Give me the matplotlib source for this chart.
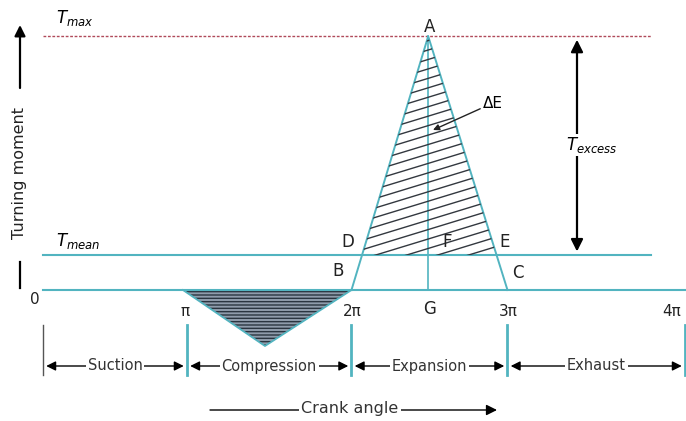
import numpy as np
import matplotlib
matplotlib.use("Agg")
import matplotlib.pyplot as plt
from matplotlib.patches import Polygon

# crank angle in units of pi, turning moment in units of T_mean
angle_ticks = [0, 0.897, 1.922, 2.894, 4.0]
angle_labels = ['0', 'π', '2π', '3π', '4π']
phases = ['Suction', 'Compression', 'Expansion', 'Exhaust']
T_mean = 1.0
T_max = 7.25
comp_angle = [0.872, 1.383, 1.922]
comp_torque = [0.0, -1.6, 0.0]
exp_angle = [1.922, 2.400, 2.894]
exp_torque = [0.0, 7.25, 0.0]
line_end = 3.79

TEAL = '#52b4c0'

fig = plt.figure(figsize=(6.86, 4.21), dpi=100)
ax = fig.add_axes([0, 0, 1, 1])
ax.set_xlim(-43 / 160.5, (686 - 43) / 160.5)
ax.set_ylim(-(421 - 290) / 35, 290 / 35)
ax.axis('off')

def P(x, y):
    # pixel position of the picture -> data coords (for labels only)
    return ((x - 43) / 160.5, (290 - y) / 35)

# base lines
ax.plot([angle_ticks[0], angle_ticks[-1]], [0, 0], color=TEAL, lw=1.5)
ax.plot([0, line_end], [T_mean, T_mean], color=TEAL, lw=1.5)
ax.plot([0, line_end], [T_max, T_max], color='#b04a5a', lw=1.0, ls=(0, (2, 1.2)))

# compression loop
comp = Polygon(list(zip(comp_angle, comp_torque)), closed=True,
               facecolor='#8f9cab', edgecolor='#2a3540', hatch='-----', lw=0)
ax.add_patch(comp)
ax.plot(comp_angle, comp_torque, color=TEAL, lw=1.3)

# expansion triangle
ax.plot(exp_angle, exp_torque, color=TEAL, lw=1.4)
ax.plot([exp_angle[1], exp_angle[1]], [0, exp_torque[1]], color=TEAL, lw=1.2)

# D and E where the triangle cuts T_mean
uD = exp_angle[0] + (exp_angle[1] - exp_angle[0]) * T_mean / exp_torque[1]
uE = exp_angle[2] - (exp_angle[2] - exp_angle[1]) * T_mean / exp_torque[1]
tri = Polygon([(uD, T_mean), (exp_angle[1], exp_torque[1]), (uE, T_mean)],
              closed=True, facecolor='none', edgecolor='none')
ax.add_patch(tri)
slope = 1.4
for c in np.arange(-12, 6, 0.27):
    xs = np.array([uD - 0.1, uE + 0.1])
    ln, = ax.plot(xs, c + slope * (xs - uD) + T_mean, color='#33383f', lw=1.0)
    ln.set_clip_path(tri)

# point labels
fs = 12
for s, (x, y) in {'A': (430, 27), 'B': (338, 271), 'C': (518, 273),
                  'D': (348, 242), 'E': (505, 242), 'F': (447, 242),
                  'G': (430, 309)}.items():
    ax.text(*P(x, y), s, ha='center', va='center', fontsize=fs, color='#222222')

# angle tick labels
tick_y = [300, 311, 311, 311, 311]
tick_x = [35, 185, 352, 508, 672]
for lab, x, y in zip(angle_labels, tick_x, tick_y):
    ax.text(*P(x, y), lab, ha='center', va='center', fontsize=11, color='#222222')

ax.text(*P(56, 18), r'$T_{max}$', ha='left', va='center', fontsize=12)
ax.text(*P(56, 241), r'$T_{mean}$', ha='left', va='center', fontsize=12)

# T_excess arrow
xe = P(577, 0)[0]
ax.annotate('', xy=(xe, T_max - 0.1), xytext=(xe, T_mean + 0.1),
            arrowprops=dict(arrowstyle='<|-|>', color='black', lw=1.6,
                            mutation_scale=18, shrinkA=0, shrinkB=0))
ax.text(*P(592, 145), r'$T_{excess}$', ha='center', va='center', fontsize=12,
        bbox=dict(facecolor='white', edgecolor='none', pad=1))

# delta E label
ax.annotate('ΔE', xy=P(433, 130), xytext=P(483, 103), fontsize=11,
            ha='left', va='center',
            arrowprops=dict(arrowstyle='-|>', color='#222222', lw=1.0,
                            mutation_scale=9, shrinkA=0, shrinkB=0))

# y axis label
xl = P(20, 0)[0]
ax.annotate('', xy=P(20, 25), xytext=P(20, 88),
            arrowprops=dict(arrowstyle='-|>', color='black', lw=1.6,
                            mutation_scale=16, shrinkA=0, shrinkB=0))
ax.text(*P(20, 173), 'Turning moment', rotation=90, ha='center', va='center',
        fontsize=11.5, color='#222222')
ax.plot([xl, xl], [P(0, 262)[1], P(0, 288)[1]], color='black', lw=1.6)

# phase bars and arrows
yb0, yb1 = P(0, 325)[1], P(0, 375)[1]
for i, u in enumerate(angle_ticks):
    ax.plot([u, u], [yb0, yb1], color='#555555' if i == 0 else TEAL,
            lw=1.0 if i == 0 else 2.0)
ya = P(0, 366)[1]
for i, name in enumerate(phases):
    a, b = angle_ticks[i], angle_ticks[i + 1]
    ax.annotate('', xy=(b - 0.02, ya), xytext=(a + 0.02, ya),
                arrowprops=dict(arrowstyle='<|-|>', color='black', lw=1.0,
                                mutation_scale=14, shrinkA=0, shrinkB=0))
    ax.text((a + b) / 2, ya, name, ha='center', va='center', fontsize=10.5,
            color='#333333',
            bbox=dict(facecolor='white', edgecolor='none', pad=1.5))

# crank angle arrow
yc = P(0, 410)[1]
ax.annotate('', xy=(P(497, 0)[0], yc), xytext=(P(210, 0)[0], yc),
            arrowprops=dict(arrowstyle='-|>', color='black', lw=1.0,
                            mutation_scale=16, shrinkA=0, shrinkB=0))
ax.text(*P(350, 409), 'Crank angle', ha='center', va='center', fontsize=11.5,
        color='#333333', bbox=dict(facecolor='white', edgecolor='none', pad=1.5))

fig.savefig('out.png', dpi=100, facecolor='white')
